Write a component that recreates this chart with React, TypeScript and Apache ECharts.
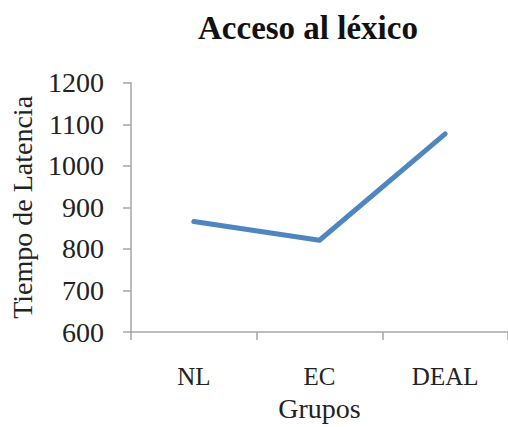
import React, { useEffect, useRef } from "react";
import * as echarts from "echarts";

// Mean latency per group
const groups = ["NL", "EC", "DEAL"];
const latency = [866, 821, 1077];

const yMin = 600;
const yMax = 1200;
const yStep = 100;

const titleText = "Acceso al léxico";
const xName = "Grupos";
const yName = "Tiempo de Latencia";

const SERIF = '"Liberation Serif", "DejaVu Serif", serif';
const AXIS_GRAY = "#a6a6a6";

export default function App() {
  const ref = useRef<HTMLDivElement>(null);

  useEffect(() => {
    if (!ref.current) return;
    const chart = echarts.init(ref.current, undefined, { renderer: "svg" });
    chart.setOption({
      animation: false,
      backgroundColor: "#ffffff",
      title: {
        text: titleText,
        left: 193,
        top: 6,
        textStyle: {
          fontFamily: SERIF,
          fontSize: 33,
          fontWeight: "bold",
          color: "#111111",
          lineHeight: 33,
        },
      },
      grid: {
        left: 128.7,
        right: -7.7,
        top: 82.7,
        bottom: 90.3,
        containLabel: false,
      },
      xAxis: {
        type: "category",
        data: groups,
        boundaryGap: true,
        name: xName,
        nameLocation: "middle",
        nameGap: 61,
        nameTextStyle: {
          fontFamily: SERIF,
          fontSize: 28,
          color: "#222222",
          lineHeight: 28,
        },
        axisLine: { show: true, lineStyle: { color: AXIS_GRAY, width: 1.5 } },
        axisTick: { show: true, length: 8, lineStyle: { color: AXIS_GRAY, width: 1.5 } },
        axisLabel: {
          margin: 32,
          fontFamily: SERIF,
          fontSize: 25,
          lineHeight: 25,
          color: "#222222",
        },
        splitLine: { show: false },
      },
      yAxis: {
        type: "value",
        min: yMin,
        max: yMax,
        interval: yStep,
        name: yName,
        nameLocation: "middle",
        nameGap: 95,
        nameTextStyle: {
          fontFamily: SERIF,
          fontSize: 28,
          color: "#222222",
        },
        axisLine: { show: true, lineStyle: { color: AXIS_GRAY, width: 1.5 } },
        axisTick: { show: true, length: 8, lineStyle: { color: AXIS_GRAY, width: 1.5 } },
        axisLabel: {
          margin: 27,
          fontFamily: SERIF,
          fontSize: 28,
          color: "#222222",
          formatter: (v: number) => String(v),
        },
        splitLine: { show: false },
      },
      series: [
        {
          type: "line",
          data: latency,
          symbol: "none",
          lineStyle: { color: "#4f86c0", width: 5, cap: "round", join: "round" },
        },
      ],
    });
    return () => chart.dispose();
  }, []);

  return (
    <div
      ref={ref}
      style={{ position: "absolute", left: 0, top: 0, width: 508, height: 427 }}
    />
  );
}
